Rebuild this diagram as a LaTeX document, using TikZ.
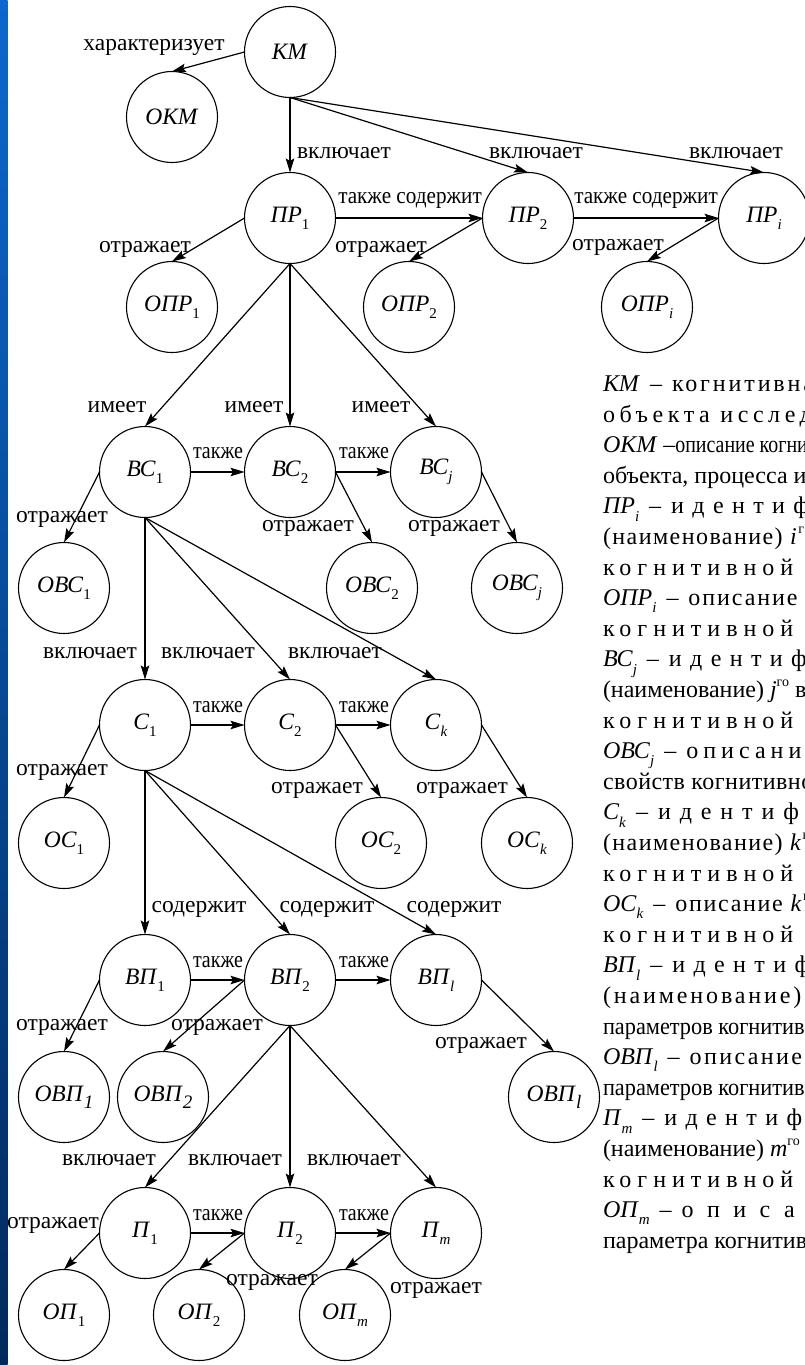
\documentclass[tikz,border=0pt]{standalone}
\usepackage{fontspec}
\setmainfont{Liberation Serif}
\usepackage{graphicx}
\usetikzlibrary{arrows.meta}
\definecolor{stripTop}{RGB}{12,104,206}
\definecolor{stripBot}{RGB}{0,42,92}
\newcommand\mysub[1]{\raisebox{-0.3em}{\fontsize{15}{15}\selectfont #1}}
\newcommand\mysubI[1]{\raisebox{-0.28em}{\fontsize{19}{19}\selectfont\itshape #1}}
\newcommand\mysup[1]{\raisebox{0.45em}{\fontsize{14}{14}\selectfont #1}}
\newcommand\LS[2]{{\addfontfeature{LetterSpace=#1}#2}}
\begin{document}
\begin{tikzpicture}[x=1pt,y=-1pt,
  every node/.style={inner sep=0pt, outer sep=0pt, font=\fontsize{23.5}{28}\selectfont},
  nd/.style={circle, draw, line width=1.1pt, minimum size=91pt},
  arr/.style={-{Stealth[length=14pt,width=8.5pt,inset=2.5pt]}, line width=1.2pt},
  lb/.style={anchor=base, yshift=-5.5pt},
  tx/.style={anchor=base west, font=\fontsize{24}{28}\selectfont},
]
\useasboundingbox (0,0) rectangle (804,1365);
\fill[white] (0,0) rectangle (804,1365);
\shade[top color=stripTop, bottom color=stripBot] (0,0) rectangle (7.5,1365);

% --- nodes
\node[nd] (KM) at (290,52) {\textit{КМ}};
\node[nd] (OKM) at (172,117) {\textit{ОКМ}};
\node[nd] (PR1) at (290,218) {\textit{ПР}\mysub{1}};
\node[nd] (PR2) at (528,218) {\textit{ПР}\mysub{2}};
\node[nd] (PRi) at (764,218) {\textit{ПР}\mysub{\textit{i}}};
\node[nd] (OPR1) at (172,307) {\textit{ОПР}\mysub{1}};
\node[nd] (OPR2) at (409,307) {\textit{ОПР}\mysub{2}};
\node[nd] (OPRi) at (647,307) {\textit{ОПР}\mysub{\textit{i}}};

\node[nd] (BC1) at (145,472) {\textit{ВС}\mysub{1}};
\node[nd] (BC2) at (290,472) {\textit{ВС}\mysub{2}};
\node[nd] (BCj) at (436,472) {\textit{ВС}\mysub{\textit{j}}};
\node[nd] (OBC1) at (64,588) {\textit{ОВС}\mysub{1}};
\node[nd] (OBC2) at (372,588) {\textit{ОВС}\mysub{2}};
\node[nd] (OBCj) at (517,588) {\textit{ОВС}\mysub{\textit{j}}};

\node[nd] (C1) at (145,725) {\textit{С}\mysub{1}};
\node[nd] (C2) at (290,725) {\textit{С}\mysub{2}};
\node[nd] (Ck) at (436,725) {\textit{С}\mysub{\textit{k}}};
\node[nd] (OC1) at (64,843) {\textit{ОС}\mysub{1}};
\node[nd] (OC2) at (381,843) {\textit{ОС}\mysub{2}};
\node[nd] (OCk) at (527,843) {\textit{ОС}\mysub{\textit{k}}};

\node[nd] (VP1) at (145,980) {\textit{ВП}\mysub{1}};
\node[nd] (VP2) at (290,980) {\textit{ВП}\mysub{2}};
\node[nd] (VPl) at (436,980) {\textit{ВП}\mysub{\textit{l}}};
\node[nd] (OVP1) at (64,1097) {\textit{ОВП}\mysubI{1}};
\node[nd] (OVP2) at (163,1097) {\textit{ОВП}\mysubI{2}};
\node[nd] (OVPl) at (554,1097) {\textit{ОВП}\mysubI{l}};

\node[nd] (P1) at (145,1233) {\textit{П}\mysub{1}};
\node[nd] (P2) at (290,1233) {\textit{П}\mysub{2}};
\node[nd] (Pm) at (436,1233) {\textit{П}\mysub{\textit{m}}};
\node[nd] (OP1) at (64,1315) {\textit{ОП}\mysub{1}};
\node[nd] (OP2) at (199,1315) {\textit{ОП}\mysub{2}};
\node[nd] (OPm) at (345,1315) {\textit{ОП}\mysub{\textit{m}}};

% --- connectors
\draw[arr] (KM.west) -- (OKM.north);
\draw[arr] (KM.south) -- (PR1.north);
\draw[arr] (KM.south) -- (PR2.north);
\draw[arr] (KM.south) -- (PRi.north);
\draw[arr] (PR1.east) -- (PR2.west);
\draw[arr] (PR2.east) -- (PRi.west);
\draw[arr] (PR1.west) -- (OPR1.north);
\draw[arr] (PR2.west) -- (OPR2.north);
\draw[arr] (PRi.west) -- (OPRi.north);

\draw[arr] (PR1.south) -- (BC1.north);
\draw[arr] (PR1.south) -- (BC2.north);
\draw[arr] (PR1.south) -- (BCj.north);
\draw[arr] (BC1.east) -- (BC2.west);
\draw[arr] (BC2.east) -- (BCj.west);
\draw[arr] (BC1.west) -- (OBC1.north);
\draw[arr] (BC2.east) -- (OBC2.north);
\draw[arr] (BCj.east) -- (OBCj.north);

\draw[arr] (BC1.south) -- (C1.north);
\draw[arr] (BC1.south) -- (C2.north);
\draw[arr] (BC1.south) -- (Ck.north);
\draw[arr] (C1.east) -- (C2.west);
\draw[arr] (C2.east) -- (Ck.west);
\draw[arr] (C1.west) -- (OC1.north);
\draw[arr] (C2.east) -- (OC2.north);
\draw[arr] (Ck.east) -- (OCk.north);

\draw[arr] (C1.south) -- (VP1.north);
\draw[arr] (C1.south) -- (VP2.north);
\draw[arr] (C1.south) -- (VPl.north);
\draw[arr] (VP1.east) -- (VP2.west);
\draw[arr] (VP2.east) -- (VPl.west);
\draw[arr] (VP1.west) -- (OVP1.north);
\draw[arr] (VP2.west) -- (OVP2.north);
\draw[arr] (VPl.east) -- (OVPl.north);

\draw[arr] (VP2.south) -- (P1.north);
\draw[arr] (VP2.south) -- (P2.north);
\draw[arr] (VP2.south) -- (Pm.north);
\draw[arr] (P1.east) -- (P2.west);
\draw[arr] (P2.east) -- (Pm.west);
\draw[arr] (P1.west) -- (OP1.north);
\draw[arr] (P2.west) -- (OP2.north);
\draw[arr] (Pm.west) -- (OPm.north);

% --- connector labels
\node[lb] (a1) at (154,45) {характеризует};
\node[lb] (a2) at (344,153) {включает};
\node[lb] (a3) at (536,153) {включает};
\node[lb] (a4) at (736,153) {включает};
\node[lb] (a5) at (410,198) {\scalebox{0.9}[1]{также содержит}};
\node[lb] (a6) at (646,198) {\scalebox{0.9}[1]{также содержит}};
\node[lb] (a7) at (145,247) {отражает};
\node[lb] (a8) at (381,247) {отражает};
\node[lb] (a9) at (618,245) {отражает};

\node[lb] (b1) at (117,407) {имеет};
\node[lb] (b2) at (254,407) {имеет};
\node[lb] (b3) at (381,407) {имеет};
\node[lb] (b4) at (218,453) {\scalebox{0.85}[1]{также}};
\node[lb] (b5) at (364,453) {\scalebox{0.85}[1]{также}};
\node[lb] (b6) at (62,517) {отражает};
\node[lb] (b7) at (308,526) {отражает};
\node[lb] (b8) at (454,526) {отражает};

\node[lb] (c1) at (90,653) {включает};
\node[lb] (c2) at (208,653) {включает};
\node[lb] (c3) at (335,653) {включает};
\node[lb] (c4) at (218,707) {\scalebox{0.85}[1]{также}};
\node[lb] (c5) at (364,707) {\scalebox{0.85}[1]{также}};
\node[lb] (c6) at (62,770) {отражает};
\node[lb] (c7) at (317,788) {отражает};
\node[lb] (c8) at (462,788) {отражает};

\node[lb] (d1) at (199,907) {содержит};
\node[lb] (d2) at (327,907) {содержит};
\node[lb] (d3) at (454,907) {содержит};
\node[lb] (d4) at (218,962) {\scalebox{0.85}[1]{также}};
\node[lb] (d5) at (364,962) {\scalebox{0.85}[1]{также}};
\node[lb] (d6) at (62,1025) {отражает};
\node[lb] (d7) at (217,1025) {отражает};
\node[lb] (d8) at (481,1043) {отражает};

\node[lb] (e1) at (109,1160) {включает};
\node[lb] (e2) at (235,1160) {включает};
\node[lb] (e3) at (354,1160) {включает};
\node[lb] (e4) at (218,1215) {\scalebox{0.85}[1]{также}};
\node[lb] (e5) at (364,1215) {\scalebox{0.85}[1]{также}};
\node[lb] (e6) at (53,1223) {отражает};
\node[lb] (e7) at (272,1280) {отражает};
\node[lb] (e8) at (436,1288) {отражает};

% --- legend text (continues past the right edge of the page)
\node[tx] (t1) at (603,391.5) {\textit{КМ} \,–\, \LS{12}{когнитивная модель}};
\node[tx] (t2) at (603,422.1) {\LS{19}{объекта исследования;}};
\node[tx] (t3) at (603,452.7) {\textit{ОКМ} –\scalebox{0.83}[1]{описание когнитивной модели}};
\node[tx] (t4) at (603,483.3) {объекта, процесса или явления;};
\node[tx] (t5) at (603,513.9) {\textit{ПР}\mysub{\textit{i}} \,–\, \LS{35}{идентификатор}};
\node[tx] (t6) at (603,544.5) {\LS{6}{(наименование) \textit{i}\mysup{го} представления}};
\node[tx] (t7) at (603,575.1) {\LS{25}{когнитивной модели;}};
\node[tx] (t8) at (603,605.7) {\textit{ОПР}\mysub{\textit{i}} \,–\, \LS{8}{описание \textit{i}\mysup{го}}};
\node[tx] (t9) at (603,636.3) {\LS{25}{когнитивной модели;}};
\node[tx] (t10) at (603,666.9) {\textit{ВС}\mysub{\textit{j}} \,–\, \LS{35}{идентификатор}};
\node[tx] (t11) at (603,697.5) {(наименование) \textit{j}\mysup{го} вида};
\node[tx] (t12) at (603,728.1) {\LS{25}{когнитивной модели;}};
\node[tx] (t13) at (603,758.7) {\textit{ОВС}\mysub{\textit{j}} \,–\, \LS{21}{описание}};
\node[tx] (t14) at (603,789.3) {\LS{2}{свойств когнитивной модели;}};
\node[tx] (t15) at (603,819.9) {\textit{С}\mysub{\textit{k}} \,–\, \LS{37}{идентификатор}};
\node[tx] (t16) at (603,850.5) {\LS{6}{(наименование) \textit{k}\mysup{го} свойства}};
\node[tx] (t17) at (603,881.1) {\LS{25}{когнитивной модели;}};
\node[tx] (t18) at (603,911.7) {\textit{ОС}\mysub{\textit{k}} \,–\, \LS{7}{описание \textit{k}\mysup{го}}};
\node[tx] (t19) at (603,942.3) {\LS{25}{когнитивной модели;}};
\node[tx] (t20) at (603,972.9) {\textit{ВП}\mysub{\textit{l}} \,–\, \LS{35}{идентификатор}};
\node[tx] (t21) at (603,1003.5) {\LS{12}{(наименование) \textit{l}\mysup{го} вида}};
\node[tx] (t22) at (603,1034.1) {\scalebox{0.93}[1]{параметров когнитивной модели;}};
\node[tx] (t23) at (603,1064.7) {\textit{ОВП}\mysub{\textit{l}} \,–\, \LS{10}{описание \textit{l}\mysup{го}}};
\node[tx] (t24) at (603,1095.3) {\scalebox{0.93}[1]{параметров когнитивной модели;}};
\node[tx] (t25) at (603,1125.9) {\textit{П}\mysub{\textit{m}} \,–\, \LS{35}{идентификатор}};
\node[tx] (t26) at (603,1156.5) {(наименование) \textit{m}\mysup{го} параметра};
\node[tx] (t27) at (603,1187.1) {\LS{25}{когнитивной модели;}};
\node[tx] (t28) at (603,1217.7) {\textit{ОП}\mysub{\textit{m}} \,–\, \LS{56}{описание}};
\node[tx] (t29) at (603,1248.3) {параметра когнитивной модели.};
\end{tikzpicture}
\end{document}
